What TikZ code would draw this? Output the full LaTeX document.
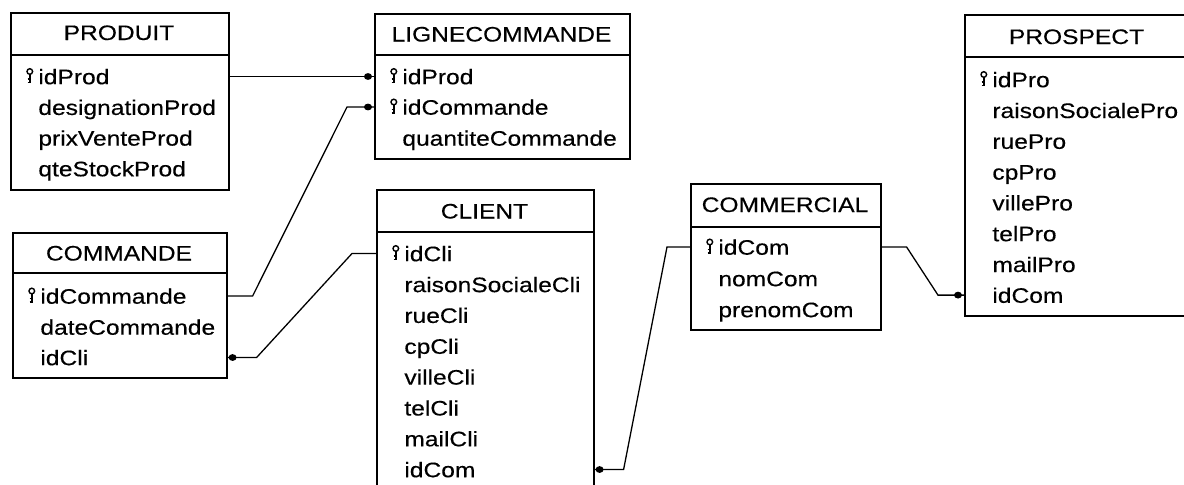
\documentclass[tikz,border=0pt]{standalone}
\usepackage{fontspec}
\setmainfont[FakeStretch=1.17,FakeBold=0.35]{Liberation Sans}
\usetikzlibrary{calc,shapes.geometric}
\tikzset{
  ent/.style={draw, line width=0.8pt, anchor=north west, inner sep=0pt},
  ttl/.style={anchor=base, inner sep=0pt, font=\fontsize{10.5}{12}\selectfont},
  attr/.style={anchor=west, inner sep=0pt, text height=9.7pt, text depth=2pt, font=\fontsize{10.5}{12}\selectfont},
  link/.style={line width=0.65pt},
  fkdot/.style={fill, ellipse, inner sep=0pt, minimum width=4pt, minimum height=3.4pt},
  keyic/.pic={
    \draw[line width=0.7pt] (0.3,-5) circle[radius=1.4pt];
    \draw[line width=0.9pt] (0.3,-2.2) -- (0.3,6.5);
    \draw[line width=0.8pt] (-2,2.6) -- (0.3,2.6);
    \draw[line width=0.8pt] (-2,6) -- (0.3,6);
  }
}
\newcommand\attrrow[4]{\node[attr] (#1) at (#2,#3) {#4};}
\newcommand\keyrow[4]{\pic at (#2-8.5,#3) {keyic}; \node[attr] (#1) at (#2,#3) {#4};}
\begin{document}
\begin{tikzpicture}[x=0.5pt,y=-0.5pt]
\useasboundingbox (0,0) rectangle (1184,484);

% PRODUIT
\node[ent, minimum width=109pt, minimum height=88.5pt] (produit) at (10,12) {};
\draw[line width=0.8pt] (produit.west |- 0,55) -- (produit.east |- 0,55);
\node[ttl] (produitT) at (119,40) {PRODUIT};
\keyrow{p1}{38}{76.5}{idProd}
\attrrow{p2}{38}{107.2}{designationProd}
\attrrow{p3}{38}{137.9}{prixVenteProd}
\attrrow{p4}{38}{168.6}{qteStockProd}

% LIGNECOMMANDE
\node[ent, minimum width=127.5pt, minimum height=72.5pt] (ligne) at (374,13) {};
\draw[line width=0.8pt] (ligne.west |- 0,55) -- (ligne.east |- 0,55);
\node[ttl] (ligneT) at (501.5,41.5) {LIGNECOMMANDE};
\keyrow{l1}{402}{76.5}{idProd}
\keyrow{l2}{402}{107}{idCommande}
\attrrow{l3}{402}{138}{quantiteCommande}

% COMMANDE
\node[ent, minimum width=107pt, minimum height=72.5pt] (commande) at (12,232) {};
\draw[line width=0.8pt] (commande.west |- 0,273) -- (commande.east |- 0,273);
\node[ttl] (commandeT) at (119,260.5) {COMMANDE};
\keyrow{c1}{40}{296}{idCommande}
\attrrow{c2}{40}{327}{dateCommande}
\attrrow{c3}{40}{357.5}{idCli}

% CLIENT
\node[ent, minimum width=108.5pt, minimum height=151.5pt] (client) at (376,189) {};
\draw[line width=0.8pt] (client.west |- 0,232) -- (client.east |- 0,232);
\node[ttl] (clientT) at (484.5,218.5) {CLIENT};
\keyrow{k1}{404}{253.5}{idCli}
\attrrow{k2}{404}{284.4}{raisonSocialeCli}
\attrrow{k3}{404}{315.2}{rueCli}
\attrrow{k4}{404}{346.1}{cpCli}
\attrrow{k5}{404}{376.9}{villeCli}
\attrrow{k6}{404}{407.8}{telCli}
\attrrow{k7}{404}{438.6}{mailCli}
\attrrow{k8}{404}{469.5}{idCom}

% COMMERCIAL
\node[ent, minimum width=95pt, minimum height=73pt] (commercial) at (690,183) {};
\draw[line width=0.8pt] (commercial.west |- 0,227) -- (commercial.east |- 0,227);
\node[ttl] (commercialT) at (785,212) {COMMERCIAL};
\keyrow{m1}{718}{247}{idCom}
\attrrow{m2}{718}{278.5}{nomCom}
\attrrow{m3}{718}{309.5}{prenomCom}

% PROSPECT
\node[ent, minimum width=112.5pt, minimum height=150.5pt] (prospect) at (964,14) {};
\draw[line width=0.8pt] (prospect.west |- 0,57) -- (prospect.east |- 0,57);
\node[ttl] (prospectT) at (1076.5,44) {PROSPECT};
\keyrow{s1}{992}{79.5}{idPro}
\attrrow{s2}{992}{110.3}{raisonSocialePro}
\attrrow{s3}{992}{141.1}{ruePro}
\attrrow{s4}{992}{171.9}{cpPro}
\attrrow{s5}{992}{202.7}{villePro}
\attrrow{s6}{992}{233.5}{telPro}
\attrrow{s7}{992}{264.3}{mailPro}
\attrrow{s8}{992}{295.1}{idCom}

% connectors
\draw[link] (produit.east |- p1) -- (ligne.west |- l1);
\node[fkdot] at ($(ligne.west |- l1)+(-6,0)$) {};

\draw[link] (commande.east |- c1) -- ++(25,0) -- ($(ligne.west |- l2)+(-27,0)$) -- (ligne.west |- l2);
\node[fkdot] at ($(ligne.west |- l2)+(-6,0)$) {};

\draw[link] (commande.east |- c3) -- ++(29,0) -- ($(client.west |- k1)+(-24,0)$) -- (client.west |- k1);
\node[fkdot] at ($(commande.east |- c3)+(5,0)$) {};

\draw[link] (client.east |- k8) -- ++(29,0) -- ($(commercial.west |- m1)+(-23,0)$) -- (commercial.west |- m1);
\node[fkdot] at ($(client.east |- k8)+(5,0)$) {};

\draw[link] (commercial.east |- m1) -- ++(25,0) -- ($(prospect.west |- s8)+(-26,0)$) -- (prospect.west |- s8);
\node[fkdot] at ($(prospect.west |- s8)+(-6,0)$) {};
\end{tikzpicture}
\end{document}
